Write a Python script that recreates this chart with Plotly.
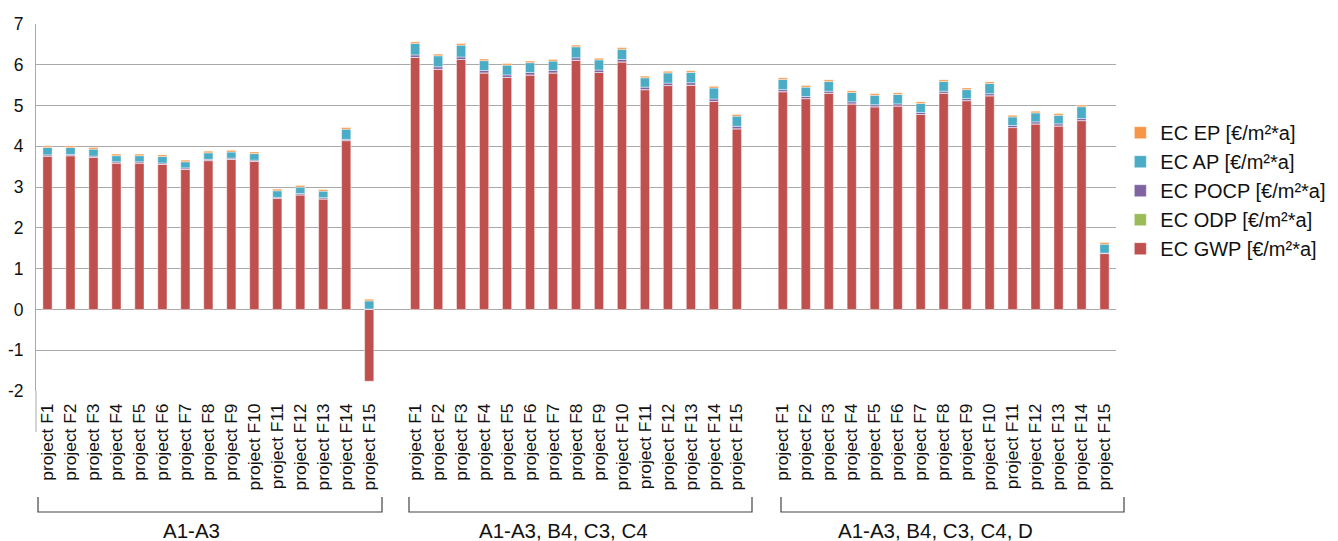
import plotly.graph_objects as go

# ---------------- data ----------------
groups = ["A1-A3", "A1-A3, B4, C3, C4", "A1-A3, B4, C3, C4, D"]
projects = ["project F%d" % i for i in range(1, 16)]

gwp_g1 = [3.76, 3.77, 3.73, 3.59, 3.59, 3.56, 3.44, 3.65, 3.68, 3.63, 2.72, 2.81, 2.71, 4.14, -1.76]
odp_g1 = [0.001] * 15
pocp_g1 = [0.03] * 14 + [0.01]
ap_g1 = [0.18, 0.17, 0.17, 0.15, 0.15, 0.16, 0.15, 0.16, 0.15, 0.16, 0.16, 0.16, 0.16, 0.25, 0.20]
ep_g1 = [0.04] * 15

gwp_g2 = [6.18, 5.89, 6.13, 5.80, 5.69, 5.75, 5.80, 6.11, 5.81, 6.07, 5.39, 5.49, 5.50, 5.10, 4.43]
odp_g2 = [0.001] * 15
pocp_g2 = [0.06] * 15
ap_g2 = [0.28, 0.27, 0.29, 0.24, 0.24, 0.24, 0.23, 0.27, 0.25, 0.25, 0.23, 0.25, 0.25, 0.27, 0.25]
ep_g2 = [0.04] * 15

gwp_g3 = [5.34, 5.17, 5.30, 5.04, 4.97, 4.99, 4.78, 5.30, 5.12, 5.24, 4.46, 4.55, 4.50, 4.63, 1.37]
odp_g3 = [0.001] * 15
pocp_g3 = [0.05] * 14 + [0.01]
ap_g3 = [0.25, 0.23, 0.24, 0.23, 0.23, 0.23, 0.22, 0.24, 0.22, 0.25, 0.21, 0.22, 0.21, 0.29, 0.22]
ep_g3 = [0.04] * 15

series_names = ["EC GWP [€/m²*a]", "EC ODP [€/m²*a]", "EC POCP [€/m²*a]",
                "EC AP [€/m²*a]", "EC EP [€/m²*a]"]
series_colors = ["#C0504D", "#9BBB59", "#8064A2", "#4BACC6", "#F79646"]

y_tick_values = [-2, -1, 0, 1, 2, 3, 4, 5, 6, 7]
y_tick_labels = ["-2", "-1", "0", "1", "2", "3", "4", "5", "6", "7"]

# ---------------- layout geometry (screen pixels) ----------------
OFF = 8                      # page body margin of the html page
SCREEN_W, SCREEN_H = 1338, 541
W, H = SCREEN_W - OFF, SCREEN_H - OFF
P_LEFT, P_RIGHT, P_TOP, P_BOTTOM = 36, 1116, 24, 391   # plot box on screen
ML, MT = P_LEFT - OFF, P_TOP - OFF
MR, MB = W - (P_RIGHT - OFF), H - (P_BOTTOM - OFF)
PW, PH = P_RIGHT - P_LEFT, P_BOTTOM - P_TOP
FONT = "Liberation Sans, Arial, sans-serif"

def px_x(px):
    return (px - P_LEFT) / PW

def px_y(py):
    return (P_BOTTOM - py) / PH

gap = 1
xs, labels = [], []
for g in range(len(groups)):
    for i, p in enumerate(projects):
        xs.append(g * (len(projects) + gap) + i)
        labels.append(p)

series = [
    gwp_g1 + gwp_g2 + gwp_g3,
    odp_g1 + odp_g2 + odp_g3,
    pocp_g1 + pocp_g2 + pocp_g3,
    ap_g1 + ap_g2 + ap_g3,
    ep_g1 + ep_g2 + ep_g3,
]

fig = go.Figure()
for name, col, vals in zip(series_names, series_colors, series):
    fig.add_trace(go.Bar(
        x=xs, y=vals, name=name,
        marker=dict(color=col, line=dict(color="rgba(255,255,255,0.55)", width=0.8)),
    ))

xmax = xs[-1] + 0.5
boundaries = [b - 0.5 for b in range(0, int(xs[-1]) + 2)]
ymin, ymax = y_tick_values[0], y_tick_values[-1]

fig.update_layout(
    width=W, height=H,
    margin=dict(l=ML, r=MR, t=MT, b=MB, pad=0, autoexpand=False),
    paper_bgcolor="white", plot_bgcolor="white",
    barmode="relative", bargap=0.6,
    font=dict(family=FONT, color="#111111"),
    showlegend=True,
    legend=dict(
        x=1.004, xanchor="left", y=0.757, yanchor="top",
        traceorder="reversed", font=dict(size=20, family=FONT, color="#111111"),
        bgcolor="rgba(0,0,0,0)", borderwidth=0,
    ),
    xaxis=dict(
        range=[-0.5, xmax], tickmode="array", tickvals=xs, ticktext=labels,
        tickangle=-90, tickfont=dict(size=17.4, family=FONT, color="#111111"),
        showgrid=False, zeroline=False, showline=False, ticks="",
        ticklabelstandoff=8, automargin=False,
    ),
    xaxis2=dict(
        overlaying="x", anchor="free", position=(0 - ymin) / (ymax - ymin),
        range=[-0.5, xmax], tickmode="array", tickvals=boundaries,
        showticklabels=False, ticks="outside", ticklen=4, tickcolor="#9a9a9a",
        showline=True, linecolor="#9a9a9a", linewidth=1, showgrid=False,
        zeroline=False, automargin=False,
    ),
    yaxis=dict(
        range=[ymin, ymax], tickmode="array", tickvals=y_tick_values, ticktext=y_tick_labels,
        tickfont=dict(size=17.5, family=FONT, color="#111111"),
        showgrid=True, gridcolor="#a9a9a9", gridwidth=1,
        zeroline=False, showline=True, linecolor="#a9a9a9", linewidth=1,
        ticks="", ticklabelstandoff=8, automargin=False,
    ),
)

# y-axis line extension below plot (category label area divider)
fig.add_shape(type="line", xref="paper", yref="paper",
              x0=0, x1=0, y0=0, y1=px_y(432),
              line=dict(color="#a9a9a9", width=1))

# group brackets and labels
brackets = [(38, 382), (409, 752), (781, 1124)]
label_cx = [191, 563, 935]
for (a, b), cx, gname in zip(brackets, label_cx, groups):
    path = "M %f,%f L %f,%f L %f,%f L %f,%f" % (
        px_x(a), px_y(497), px_x(a), px_y(512), px_x(b), px_y(512), px_x(b), px_y(497))
    fig.add_shape(type="path", xref="paper", yref="paper", path=path,
                  line=dict(color="#444444", width=1.2))
    fig.add_annotation(x=px_x(cx), y=px_y(530), xref="paper", yref="paper",
                       text=gname, showarrow=False, xanchor="center", yanchor="middle",
                       font=dict(size=20.5, family=FONT, color="#111111"))

fig.write_html("out.html")
